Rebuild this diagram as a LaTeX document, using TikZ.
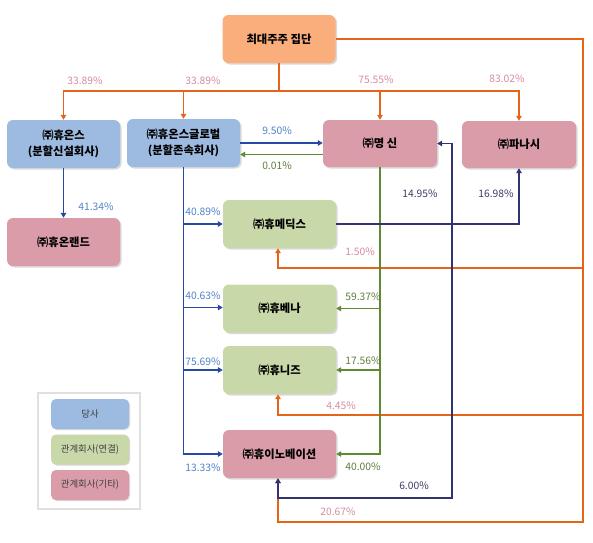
\documentclass[tikz,border=0pt]{standalone}
\usepackage{fontspec}
\newfontfamily\kr{Noto Sans CJK KR}
\usetikzlibrary{arrows.meta,shadows}
\definecolor{fOr}{RGB}{250,174,124}
\definecolor{fBl}{RGB}{157,186,224}
\definecolor{fGr}{RGB}{200,216,168}
\definecolor{fPk}{RGB}{218,156,168}
\definecolor{lOr}{RGB}{230,100,25}
\definecolor{lBl}{RGB}{40,72,165}
\definecolor{lGr}{RGB}{95,138,48}
\definecolor{lNv}{RGB}{50,50,110}
\definecolor{tPk}{RGB}{214,140,160}
\definecolor{tBl}{RGB}{80,130,200}
\definecolor{tGr}{RGB}{95,125,60}
\definecolor{tNv}{RGB}{60,60,100}
\tikzset{
  box/.style={rounded corners=6pt, minimum width=113pt, minimum height=48pt, inner sep=2pt,
    font=\kr\bfseries\fontsize{11.3}{15.5}\selectfont, align=center,
    drop shadow={opacity=0.3, shadow xshift=1.5pt, shadow yshift=-1.5pt}},
  lgbox/.style={rounded corners=5pt, minimum width=78pt, minimum height=30pt, inner sep=1pt,
    font=\kr\fontsize{9.4}{11}\selectfont, text=black!75,
    drop shadow={opacity=0.3, shadow xshift=1pt, shadow yshift=-1pt}},
  tip/.style={-{Triangle[width=5.5pt,length=5pt]}},
  oline/.style={draw=lOr, line width=1.4pt},
  bline/.style={draw=lBl, line width=1.2pt},
  gline/.style={draw=lGr, line width=1.2pt},
  nline/.style={draw=lNv, line width=1.2pt},
  pct/.style={font=\kr\fontsize{10.3}{12}\selectfont, inner sep=0pt},
}
\begin{document}
\begin{tikzpicture}[x=1pt,y=-1pt]
\useasboundingbox (0,0) rectangle (593,542);
% nodes
\node[box, fill=fOr] (top) at (279,39) {최대주주 집단};
\node[box, fill=fBl] (huons) at (63.5,144) {㈜휴온스\\(분할신설회사)};
\node[box, fill=fBl] (global) at (183.5,143) {㈜휴온스글로벌\\(분할존속회사)};
\node[box, fill=fPk, minimum width=114pt, minimum height=47pt] (myung) at (380,143.5) {㈜명 신};
\node[box, fill=fPk, minimum width=114pt, minimum height=47pt] (panasi) at (519,144.5) {㈜파나시};
\node[box, fill=fPk] (onland) at (63.5,242) {㈜휴온랜드};
\node[box, fill=fGr] (medix) at (279.5,224) {㈜휴메딕스};
\node[box, fill=fGr] (bena) at (279.5,308.5) {㈜휴베나};
\node[box, fill=fGr] (nease) at (279.5,370) {㈜휴니즈};
\node[box, fill=fPk] (innov) at (279.5,454) {㈜휴이노베이션};
% legend
\node[draw=black!12, line width=1.5pt, fill=white, minimum width=102pt, minimum height=116pt] (legend) at (89,451) {};
\node[lgbox, fill=fBl] (lg1) at (90,414) {당사};
\node[lgbox, fill=fGr] (lg2) at (90,449.5) {관계회사(연결)};
\node[lgbox, fill=fPk] (lg3) at (90,485) {관계회사(기타)};
% coordinates
\coordinate (oj) at (279,91);
\coordinate (oc) at (583,522);
\coordinate (ob1) at (583,268);
\coordinate (ob2) at (583,415);
\coordinate (nc) at (452,498);
% orange
\draw[oline] (top.south) -- (oj);
\draw[oline, tip] (oj) -| (huons.north);
\draw[oline, tip] (oj) -| (global.north);
\draw[oline, tip] (oj) -| (myung.north);
\draw[oline, tip] (oj) -| (panasi.north);
\draw[oline, tip] (top.east) -| (oc) -| ([xshift=-1.5pt]innov.south);
\draw[oline, line width=2.4pt] (top.east -| oc) -- (oc);
\draw[oline, tip] (ob1) -| ([xshift=-1.5pt]medix.south);
\draw[oline, tip] (ob2) -| ([xshift=-1.5pt]nease.south);
% blue
\draw[bline, tip] (huons.south) -- (onland.north);
\draw[bline, tip] (global.south) |- (innov.west);
\draw[bline, tip] (global.south |- medix.west) -- (medix.west);
\draw[bline, tip] ([yshift=1pt]global.south |- bena.west) -- ([yshift=1pt]bena.west);
\draw[bline, tip] (global.south |- nease.west) -- (nease.west);
\draw[bline, tip] (global.east) -- (global.east -| myung.west);
% green
\draw[gline, tip] ([yshift=-11pt]myung.west) -- ([yshift=-11pt]myung.west -| global.east);
\draw[gline, tip] (myung.south) |- (innov.east);
\draw[gline, tip] (myung.south |- bena.east) -- (bena.east);
\draw[gline, tip] (myung.south |- nease.east) -- (nease.east);
% navy
\draw[nline, tip] (medix.east) -| (panasi.south);
\draw[nline, {Triangle[width=5.5pt,length=5pt]}-{Triangle[width=5.5pt,length=5pt]}] (myung.east) -| (nc) -| ([xshift=-1.5pt]innov.south);
% labels
\node[pct, text=tPk] (p1) at (85,81) {33.89\%};
\node[pct, text=tPk] (p2) at (203,81) {33.89\%};
\node[pct, text=tPk] (p3) at (376,80) {75.55\%};
\node[pct, text=tPk] (p4) at (507,79) {83.02\%};
\node[pct, text=tBl] (p5) at (277,131) {9.50\%};
\node[pct, text=tGr] (p6) at (277,166) {0.01\%};
\node[pct, text=tNv] (p7) at (420,194) {14.95\%};
\node[pct, text=tNv] (p8) at (496,194) {16.98\%};
\node[pct, text=tPk] (p9) at (360,252) {1.50\%};
\node[pct, text=tGr] (p10) at (363,297) {59.37\%};
\node[pct, text=tGr] (p11) at (363,361) {17.56\%};
\node[pct, text=tBl] (p12) at (96,207) {41.34\%};
\node[pct, text=tBl] (p13) at (203,212) {40.89\%};
\node[pct, text=tBl] (p14) at (203,296) {40.63\%};
\node[pct, text=tBl] (p15) at (203,362) {75.69\%};
\node[pct, text=tBl] (p16) at (203,468) {13.33\%};
\node[pct, text=tPk] (p17) at (341,406) {4.45\%};
\node[pct, text=tGr] (p18) at (363,467) {40.00\%};
\node[pct, text=tNv] (p19) at (414,486) {6.00\%};
\node[pct, text=tPk] (p20) at (338,512) {20.67\%};
\end{tikzpicture}
\end{document}
